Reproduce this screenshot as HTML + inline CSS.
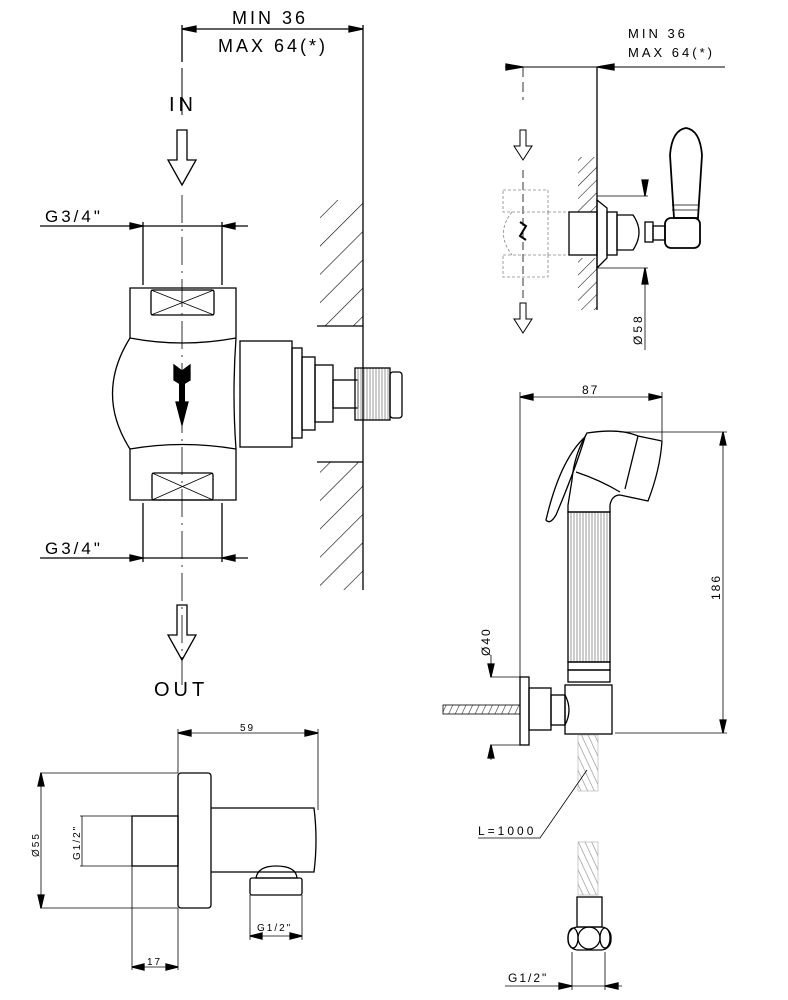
<!DOCTYPE html>
<html><head><meta charset="utf-8"><style>
html,body{margin:0;padding:0;background:#fff}
svg{display:block}
text{font-family:"Liberation Sans",sans-serif;fill:#000}
</style></head><body>
<svg width="788" height="1000" viewBox="0 0 788 1000" xmlns="http://www.w3.org/2000/svg">
<defs>
<pattern id="h" width="20" height="20" patternUnits="userSpaceOnUse" patternTransform="rotate(45)">
<line x1="0" y1="0" x2="0" y2="20" stroke="#000" stroke-width="1.2"/></pattern>
<pattern id="h2" width="9" height="9" patternUnits="userSpaceOnUse" patternTransform="rotate(45)">
<line x1="0" y1="0" x2="0" y2="9" stroke="#000" stroke-width="1"/></pattern>
<pattern id="rib" width="3" height="10" patternUnits="userSpaceOnUse">
<line x1="1" y1="0" x2="1" y2="10" stroke="#999" stroke-width="1"/></pattern>
<pattern id="coil" width="6" height="6" patternUnits="userSpaceOnUse" patternTransform="rotate(-25)">
<line x1="0" y1="0" x2="0" y2="6" stroke="#888" stroke-width="1.2"/></pattern>
<pattern id="coilh" width="6" height="6" patternUnits="userSpaceOnUse" patternTransform="rotate(25)">
<line x1="0" y1="0" x2="0" y2="6" stroke="#333" stroke-width="1.2"/></pattern>
</defs>
<g fill="none" stroke="#000" stroke-width="1.3">
<!-- ===== TOP LEFT ===== -->
<line x1="182" y1="29" x2="363" y2="29"/>
<polygon points="182,29 196,26 196,32" fill="#000"/>
<polygon points="363,29 349,26 349,32" fill="#000"/>
<line x1="182" y1="25" x2="182" y2="62"/>
<line x1="363" y1="25" x2="363" y2="590"/>
<line x1="182" y1="68" x2="182" y2="115" stroke-width="1"/>
<line x1="182" y1="195" x2="182" y2="690" stroke-width="0.8" stroke-dasharray="28,6,2,6"/>
<path d="M177,130 H187 V160 H196 L182,185 L168,160 H177 Z"/>
<path d="M177,605 H187 V635 H196 L182,660 L168,635 H177 Z"/>
<line x1="40" y1="226" x2="248" y2="226"/>
<polygon points="143,226 130,223 130,229" fill="#000"/>
<polygon points="222,226 235,223 235,229" fill="#000"/>
<line x1="143" y1="222" x2="143" y2="285"/>
<line x1="222" y1="222" x2="222" y2="285"/>
<line x1="40" y1="558" x2="248" y2="558"/>
<polygon points="143,558 130,555 130,561" fill="#000"/>
<polygon points="222,558 235,555 235,561" fill="#000"/>
<line x1="143" y1="503" x2="143" y2="562"/>
<line x1="222" y1="503" x2="222" y2="562"/>
<path d="M130,338 V288 H236 V338"/>
<rect x="151" y="290" width="63" height="25" rx="2"/>
<path d="M151,290 L214,315 M214,290 L151,315" stroke-width="0.8"/>
<path d="M130,338 Q182,348 236,338"/>
<path d="M130,449 Q182,440 236,449"/>
<path d="M130,338 Q95,394 130,449"/>
<path d="M236,338 Q232,394 236,449"/>
<path d="M130,449 V500 H236 V449"/>
<rect x="152" y="473" width="61" height="27" rx="2"/>
<path d="M152,473 L213,500 M213,473 L152,500" stroke-width="0.8"/>
<rect x="240" y="341" width="52" height="106"/>
<rect x="292" y="348" width="10" height="90"/>
<rect x="302" y="357" width="13" height="73"/>
<rect x="315" y="365" width="18" height="57"/>
<rect x="333" y="380" width="25" height="28"/>
<rect x="355" y="368" width="35" height="52" fill="url(#rib)"/>
<rect x="390" y="372" width="12" height="46" rx="3"/>
<polygon points="174,365 182,371 190,365 190,380 182,385 182,402 188,402 182,425 176,402 182,402 182,385 174,380" fill="#000"/>
<rect x="179" y="380" width="6" height="24" fill="#000" stroke="none"/>
<rect x="320" y="200" width="43" height="126" fill="url(#h)" stroke="none"/>
<line x1="317" y1="326" x2="363" y2="326"/>
<rect x="320" y="462" width="43" height="128" fill="url(#h)" stroke="none"/>
<line x1="317" y1="462" x2="363" y2="462"/>

<!-- ===== TOP RIGHT ===== -->
<line x1="505" y1="67" x2="725" y2="67" stroke-width="1"/>
<polygon points="523,67 506,64 506,70" fill="#000"/>
<polygon points="597,67 614,64 614,70" fill="#000"/>
<line x1="523" y1="67" x2="523" y2="100" stroke-width="0.8" stroke-dasharray="10,5"/>
<line x1="597" y1="67" x2="597" y2="310"/>
<line x1="523" y1="170" x2="523" y2="300" stroke-width="0.8" stroke-dasharray="8,4"/>
<path d="M520,130 H526 V146 H532 L523,160 L514,146 H520 Z" stroke-width="1"/>
<path d="M520,303 H526 V319 H532 L523,333 L514,319 H520 Z" stroke-width="1"/>
<g stroke="#888" stroke-width="0.8" stroke-dasharray="3,2">
<rect x="503" y="190" width="45" height="22"/>
<rect x="503" y="255" width="45" height="22"/>
<path d="M512,212 Q495,233 512,255 M548,212 V255"/>
<line x1="548" y1="212" x2="569" y2="212"/><line x1="548" y1="255" x2="569" y2="255"/>
</g>
<path d="M520,222 L526,226 L520,236 L526,240" stroke-width="2"/>
<rect x="578" y="157" width="19" height="55" fill="url(#h2)" stroke="none"/>
<rect x="578" y="258" width="19" height="52" fill="url(#h2)" stroke="none"/>
<rect x="569" y="212" width="28" height="43"/>
<path d="M597,200 L607,208 V258 L597,268 Z"/>
<rect x="607" y="212" width="10" height="43"/>
<path d="M617,215 H633 Q645,232 633,250 H617 Z"/>
<rect x="645" y="222" width="8" height="20"/>
<rect x="653" y="226" width="12" height="14"/>
<rect x="665" y="218" width="35" height="30" rx="6" stroke-width="1.8"/>
<path d="M674,218 L670,155 Q672,130 686,128 Q700,130 702,155 L698,218 Z" stroke-width="1.8"/>
<line x1="672" y1="205" x2="699" y2="205" stroke-width="0.8"/>
<line x1="672" y1="210" x2="699" y2="210" stroke-width="0.8"/>
<line x1="597" y1="196" x2="648" y2="196" stroke-width="0.8"/>
<line x1="597" y1="268" x2="648" y2="268" stroke-width="0.8"/>
<polygon points="645,196 642,180 648,180" fill="#000"/>
<polygon points="645,268 642,284 648,284" fill="#000"/>
<line x1="645" y1="268" x2="645" y2="350" stroke-width="0.8"/>

<!-- ===== HAND SHOWER ===== -->
<line x1="520" y1="397" x2="662" y2="397" stroke-width="0.8"/>
<polygon points="520,397 533,394 533,400" fill="#000"/>
<polygon points="662,397 649,394 649,400" fill="#000"/>
<line x1="520" y1="392" x2="520" y2="680" stroke-width="0.8"/>
<line x1="662" y1="392" x2="662" y2="440" stroke-width="0.8"/>
<line x1="620" y1="432" x2="727" y2="432" stroke-width="0.8"/>
<line x1="615" y1="733" x2="727" y2="733" stroke-width="0.8"/>
<line x1="723" y1="432" x2="723" y2="733" stroke-width="0.8"/>
<polygon points="723,432 720,445 726,445" fill="#000"/>
<polygon points="723,733 720,720 726,720" fill="#000"/>
<path d="M587,433 Q620,428 638,436 L662,441 Q660,470 648,501 L620,495 Q612,495 610,505 L610,512 H568 V505 L572,480 Q574,455 587,433 Z"/>
<path d="M638,436 L625,489"/>
<path d="M576,472 Q600,480 620,492"/>
<path d="M585,437 Q560,460 546,520 Q550,525 556,515 Q575,470 585,437 Z"/>
<rect x="568" y="512" width="42" height="150" fill="url(#rib)"/>
<rect x="568" y="662" width="42" height="8"/>
<rect x="568" y="670" width="42" height="12"/>
<rect x="565" y="685" width="47" height="49"/>
<path d="M565,695 Q573,710 565,725"/>
<rect x="520" y="677" width="9" height="68"/>
<rect x="529" y="688" width="22" height="42"/>
<rect x="551" y="695" width="14" height="30"/>
<rect x="443" y="705" width="77" height="9" fill="url(#coilh)" stroke-width="0.8"/>
<line x1="490" y1="677" x2="520" y2="677" stroke-width="0.8"/>
<line x1="490" y1="745" x2="520" y2="745" stroke-width="0.8"/>
<polygon points="491,677 488,664 494,664" fill="#000"/>
<polygon points="491,745 488,758 494,758" fill="#000"/>
<line x1="491" y1="655" x2="491" y2="677" stroke-width="0.8"/>
<line x1="491" y1="745" x2="491" y2="760" stroke-width="0.8"/>
<rect x="578" y="735" width="20" height="56" fill="url(#coil)" stroke="#aaa" stroke-width="0.6"/>
<path d="M587,770 L540,838 H478" stroke-width="0.8"/>
<rect x="578" y="842" width="20" height="53" fill="url(#coil)" stroke="#aaa" stroke-width="0.6"/>
<rect x="577" y="897" width="25" height="30"/>
<rect x="568" y="927" width="43" height="23" rx="10"/>
<circle cx="589" cy="938" r="11"/>
<ellipse cx="573" cy="938" rx="5" ry="10"/><ellipse cx="605" cy="938" rx="5" ry="10"/>
<line x1="572" y1="952" x2="572" y2="990" stroke-width="0.8"/>
<line x1="605" y1="952" x2="605" y2="990" stroke-width="0.8"/>
<line x1="505" y1="986" x2="622" y2="986" stroke-width="0.8"/>
<polygon points="572,986 559,983 559,989" fill="#000"/>
<polygon points="605,986 618,983 618,989" fill="#000"/>

<!-- ===== BOTTOM LEFT ===== -->
<line x1="178" y1="733" x2="318" y2="733" stroke-width="0.8"/>
<polygon points="178,733 191,730 191,736" fill="#000"/>
<polygon points="318,733 305,730 305,736" fill="#000"/>
<line x1="178" y1="729" x2="178" y2="773" stroke-width="0.8"/>
<line x1="318" y1="729" x2="318" y2="810" stroke-width="0.8"/>
<rect x="178" y="773" width="33" height="135" rx="3"/>
<path d="M211,808 H314 Q318,840 314,872 H211"/>
<rect x="132" y="816" width="46" height="50"/>
<line x1="40" y1="773" x2="178" y2="773" stroke-width="0.8"/>
<line x1="40" y1="908" x2="178" y2="908" stroke-width="0.8"/>
<line x1="41" y1="773" x2="41" y2="908" stroke-width="0.8"/>
<polygon points="41,773 38,786 44,786" fill="#000"/>
<polygon points="41,908 38,895 44,895" fill="#000"/>
<line x1="80" y1="816" x2="132" y2="816" stroke-width="0.8"/>
<line x1="80" y1="866" x2="132" y2="866" stroke-width="0.8"/>
<line x1="82" y1="816" x2="82" y2="866" stroke-width="0.8"/>
<path d="M256,878 Q258,866 276,866 Q296,866 297,878 Z"/>
<rect x="250" y="878" width="52" height="17" rx="2"/>
<line x1="250" y1="895" x2="250" y2="940" stroke-width="0.8"/>
<line x1="302" y1="895" x2="302" y2="940" stroke-width="0.8"/>
<line x1="250" y1="936" x2="302" y2="936" stroke-width="0.8"/>
<polygon points="250,936 262,933 262,939" fill="#000"/>
<polygon points="302,936 290,933 290,939" fill="#000"/>
<line x1="132" y1="866" x2="132" y2="970" stroke-width="0.8"/>
<line x1="178" y1="908" x2="178" y2="970" stroke-width="0.8"/>
<line x1="132" y1="967" x2="178" y2="967" stroke-width="0.8"/>
<polygon points="132,967 144,964 144,970" fill="#000"/>
<polygon points="178,967 166,964 166,970" fill="#000"/>
</g>

<g>
<text x="232" y="24" font-size="18" letter-spacing="3">MIN 36</text>
<text x="218" y="52" font-size="18" letter-spacing="3">MAX 64(*)</text>
<text x="169" y="111" font-size="20" letter-spacing="4">IN</text>
<text x="45" y="222" font-size="17" letter-spacing="3">G3/4"</text>
<text x="45" y="554" font-size="17" letter-spacing="3">G3/4"</text>
<text x="154" y="696" font-size="20" letter-spacing="4">OUT</text>
<text x="628" y="38" font-size="13" letter-spacing="3">MIN  36</text>
<text x="628" y="57" font-size="13" letter-spacing="3">MAX  64(*)</text>
<text transform="translate(642,345) rotate(-90)" font-size="12" letter-spacing="3">Ø58</text>
<text x="582" y="394" font-size="12" letter-spacing="2">87</text>
<text transform="translate(720,600) rotate(-90)" font-size="12" letter-spacing="2">186</text>
<text transform="translate(490,656) rotate(-90)" font-size="12" letter-spacing="2">Ø40</text>
<text x="478" y="835" font-size="12" letter-spacing="3">L=1000</text>
<text x="508" y="982" font-size="12" letter-spacing="2">G1/2"</text>
<text x="240" y="731" font-size="10" letter-spacing="2">59</text>
<text transform="translate(39,857) rotate(-90)" font-size="10" letter-spacing="2">Ø55</text>
<text transform="translate(80,860) rotate(-90)" font-size="10" letter-spacing="2">G1/2"</text>
<text x="257" y="931" font-size="10" letter-spacing="2">G1/2"</text>
<text x="147" y="965" font-size="10" letter-spacing="2">17</text>
</g>
</svg>
</body></html>
